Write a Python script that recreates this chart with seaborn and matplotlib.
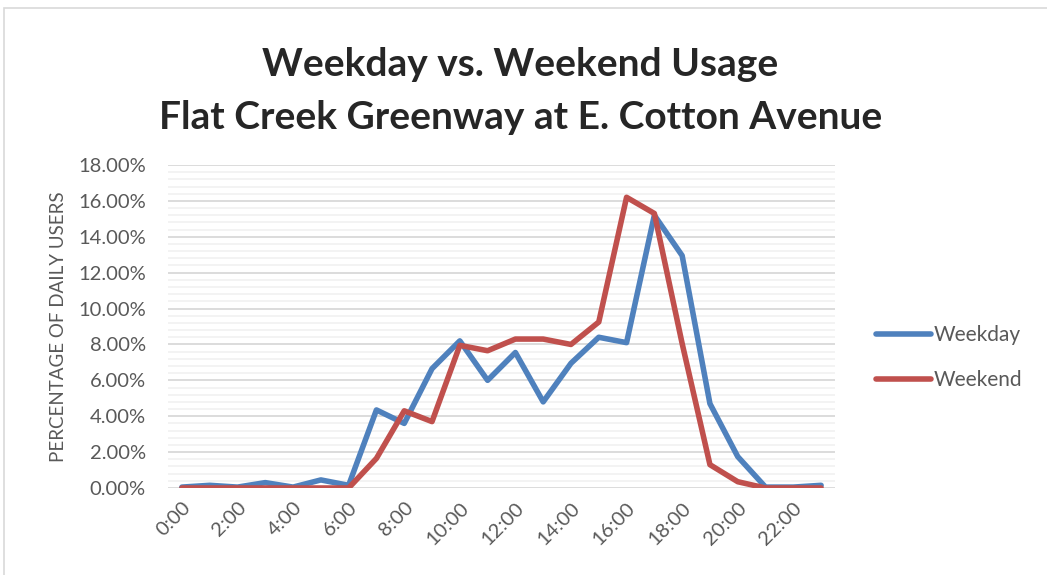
import pandas as pd
import numpy as np
import seaborn as sns
import matplotlib.pyplot as plt
from matplotlib.patches import Rectangle
from matplotlib.ticker import MultipleLocator, PercentFormatter

# Data (percentage of daily users per hour)
hours = list(range(24))
tick_labels = [f"{h}:00" for h in range(0, 24, 2)]
weekday = [0.05, 0.15, 0.05, 0.3, 0.05, 0.45, 0.15, 4.35, 3.6, 6.65, 8.2, 6.0,
           7.55, 4.8, 6.95, 8.4, 8.1, 15.2, 12.95, 4.7, 1.75, 0.05, 0.05, 0.15]
weekend = [0.0, 0.0, 0.0, 0.0, 0.0, 0.0, 0.0, 1.65, 4.3, 3.7, 7.95, 7.65,
           8.3, 8.3, 8.0, 9.25, 16.2, 15.3, 8.05, 1.3, 0.35, 0.0, 0.0, 0.0]

df = pd.DataFrame({"hour": hours + hours,
                   "pct": weekday + weekend,
                   "series": ["Weekday"] * 24 + ["Weekend"] * 24})

sns.set_style("white")
plt.rcParams['font.family'] = ['Lato', 'DejaVu Sans']
grey = "#595959"

fig = plt.figure(figsize=(10.47, 5.75), dpi=100)
ax = fig.add_axes([168 / 1047, 1 - 488 / 575, (835 - 168) / 1047, (488 - 165) / 575])

sns.lineplot(data=df, x="hour", y="pct", hue="series",
             palette={"Weekday": "#4f81bd", "Weekend": "#c0504d"},
             linewidth=4.0, ax=ax, legend=True)

ax.set_xlim(-0.5, 23.5)
ax.set_ylim(0, 18)
ax.yaxis.set_major_locator(MultipleLocator(2))
ax.yaxis.set_minor_locator(MultipleLocator(0.4))
ax.yaxis.set_major_formatter(PercentFormatter(decimals=2))
ax.set_xticks(range(0, 24, 2))
ax.set_xticklabels(tick_labels, rotation=45, ha="right", rotation_mode="anchor")
ax.grid(which="major", axis="y", color="#d9d9d9", linewidth=1.3)
ax.grid(which="minor", axis="y", color="#f2f2f2", linewidth=1.3)
ax.set_axisbelow(True)
ax.tick_params(axis="both", which="both", length=0, colors=grey, labelsize=14.5)
ax.tick_params(axis="x", pad=8)
ax.tick_params(axis="y", pad=16)
for s in ax.spines.values():
    s.set_visible(False)
ax.set_xlabel("")
ax.set_ylabel("PERCENTAGE OF DAILY USERS", color=grey, fontsize=13.5, labelpad=8)

leg = ax.legend(loc="center left", bbox_to_anchor=(1.033, 0.404), frameon=False,
                fontsize=15, handlelength=2.65, handletextpad=0.15, labelspacing=1.2)
for t in leg.get_texts():
    t.set_color(grey)
for h in leg.get_lines():
    h.set_linewidth(4.0)

fig.text(0.497, 0.887, "Weekday vs. Weekend Usage", ha="center", va="center",
         fontsize=28, fontweight="bold")
fig.text(0.497, 0.795, "Flat Creek Greenway at E. Cotton Avenue", ha="center", va="center",
         fontsize=28, fontweight="bold")

fig.patches.append(Rectangle((4 / 1047, -0.1), 1.1, 1 - 8 / 575 + 0.1,
                             transform=fig.transFigure, fill=False,
                             edgecolor="#d9d9d9", linewidth=1.2))

fig.savefig("out.png", dpi=100)
